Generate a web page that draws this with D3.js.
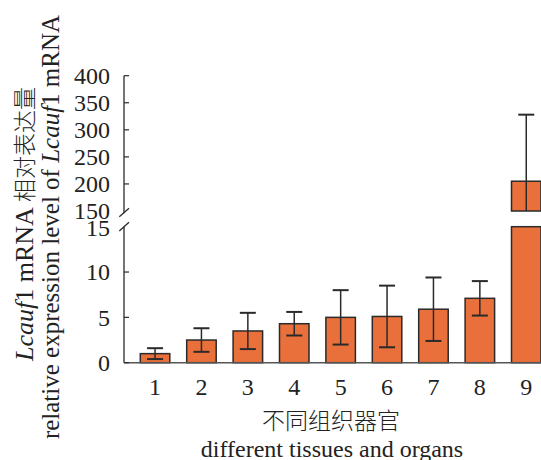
<!DOCTYPE html>
<html>
<head>
<meta charset="utf-8">
<script src="https://cdn.jsdelivr.net/npm/d3@7"></script>
<style>
  body { margin: 0; background: #fff; }
  svg { display: block; }
</style>
</head>
<body>
<svg id="app"></svg>
<script>
// data
const tissues = ["1", "2", "3", "4", "5", "6", "7", "8", "9"];
const expression = [1.0, 2.5, 3.5, 4.3, 5.0, 5.1, 5.9, 7.1, 205];
const errors = [0.6, 1.3, 2.0, 1.3, 3.0, 3.4, 3.5, 1.9, 123];
const lowTicks = [0, 5, 10, 15];
const highTicks = [150, 200, 250, 300, 350, 400];

const width = 541, height = 460;
const fill = "#e9703b", dark = "#2a2a2a";
const font = "'Liberation Serif', 'Times New Roman', 'Noto Sans CJK SC', serif";
const fs = 24;

const svg = d3.select("#app").attr("width", width).attr("height", height);

const x = d3.scaleBand()
    .domain(tissues)
    .range([124, 557.3])
    .paddingInner(0.364)
    .paddingOuter(0.351);

// broken y axis: two linear pieces
const yLow = d3.scaleLinear().domain([0, 15]).range([362.7, 226.7]);
const yHigh = d3.scaleLinear().domain([150, 400]).range([211, 75.7]);
const axisX = 124;

// bars
tissues.forEach((t, i) => {
    const v = expression[i];
    const bx = x(t), bw = x.bandwidth();
    const lowTop = yLow(Math.min(v, 15));
    svg.append("rect")
        .attr("x", bx).attr("y", lowTop)
        .attr("width", bw).attr("height", yLow(0) - lowTop)
        .attr("fill", fill).attr("stroke", dark).attr("stroke-width", 1.5);
    if (v > 150) {
        svg.append("rect")
            .attr("x", bx).attr("y", yHigh(v))
            .attr("width", bw).attr("height", yHigh(150) - yHigh(v))
            .attr("fill", fill).attr("stroke", dark).attr("stroke-width", 1.5);
    }
});

// error bars
tissues.forEach((t, i) => {
    const v = expression[i], e = errors[i];
    const cx = x(t) + x.bandwidth() / 2;
    const cap = 8;
    const g = svg.append("g").attr("stroke", dark).attr("stroke-width", 1.5);
    if (v > 150) {
        const top = yHigh(v + e);
        const bottom = v - e > 150 ? yHigh(v - e) : yHigh(150);
        g.append("line").attr("x1", cx).attr("x2", cx).attr("y1", top).attr("y2", bottom);
        g.append("line").attr("x1", cx - cap).attr("x2", cx + cap).attr("y1", top).attr("y2", top).attr("stroke-width", 2);
    } else {
        const top = yLow(v + e), bottom = yLow(v - e);
        g.append("line").attr("x1", cx).attr("x2", cx).attr("y1", top).attr("y2", bottom);
        [top, bottom].forEach(yy => {
            g.append("line").attr("x1", cx - cap).attr("x2", cx + cap).attr("y1", yy).attr("y2", yy).attr("stroke-width", 2);
        });
    }
});

// x axis
svg.append("line")
    .attr("x1", axisX).attr("x2", width)
    .attr("y1", yLow(0)).attr("y2", yLow(0))
    .attr("stroke", "#555").attr("stroke-width", 1.5);

svg.append("g")
    .selectAll("text")
    .data(tissues)
    .join("text")
    .attr("x", d => x(d) + x.bandwidth() / 2)
    .attr("y", 395)
    .attr("text-anchor", "middle")
    .attr("font-family", font).attr("font-size", fs).attr("fill", "#222")
    .text(d => d);

// y axis, lower piece
svg.append("line")
    .attr("x1", axisX).attr("x2", axisX)
    .attr("y1", yLow(0)).attr("y2", yLow(15))
    .attr("stroke", dark).attr("stroke-width", 1.3);
// y axis, upper piece
svg.append("line")
    .attr("x1", axisX).attr("x2", axisX)
    .attr("y1", yHigh(400)).attr("y2", 213.3)
    .attr("stroke", dark).attr("stroke-width", 1.3);

// break marks
[[216.7, 208.3], [231, 222.3]].forEach(([y1, y2]) => {
    svg.append("line")
        .attr("x1", 119.3).attr("x2", 129)
        .attr("y1", y1).attr("y2", y2)
        .attr("stroke", dark).attr("stroke-width", 1.3);
});

function ticks(scale, values, skipFirstTick) {
    values.forEach((v, i) => {
        if (!(skipFirstTick && i === 0)) {
            svg.append("line")
                .attr("x1", axisX).attr("x2", axisX + 5)
                .attr("y1", scale(v)).attr("y2", scale(v))
                .attr("stroke", dark).attr("stroke-width", 1.2);
        }
        svg.append("text")
            .attr("x", 110).attr("y", scale(v))
            .attr("dy", "0.35em")
            .attr("text-anchor", "end")
            .attr("font-family", font).attr("font-size", fs).attr("fill", "#222")
            .text(v);
    });
}
ticks(yLow, lowTicks.slice(0, 3), false);
svg.append("text")
    .attr("x", 110).attr("y", yLow(15) + 1)
    .attr("dy", "0.35em")
    .attr("text-anchor", "end")
    .attr("font-family", font).attr("font-size", fs).attr("fill", "#222")
    .text(lowTicks[3]);
ticks(yHigh, highTicks, true);

// y titles
const t1 = svg.append("text")
    .attr("transform", "translate(24,224) rotate(-90)")
    .attr("dy", "0.35em")
    .attr("text-anchor", "middle")
    .attr("font-family", font).attr("font-size", 26).attr("fill", "#222");
t1.append("tspan").attr("font-style", "italic").text("Lcauf");
t1.append("tspan").text("1 mRNA ");
t1.append("tspan").attr("font-weight", 300).attr("font-size", 23).text("相对表达量");

const t2 = svg.append("text")
    .attr("transform", "translate(50,227) rotate(-90)")
    .attr("dy", "0.35em")
    .attr("text-anchor", "middle")
    .attr("font-family", font).attr("font-size", 25).attr("fill", "#222");
t2.append("tspan").text("relative expression level of ");
t2.append("tspan").attr("font-style", "italic").text("Lcauf");
t2.append("tspan").text("1 mRNA");

// x titles
svg.append("text")
    .attr("x", 331).attr("y", 429)
    .attr("text-anchor", "middle")
    .attr("font-family", font).attr("font-size", 23).attr("font-weight", 300).attr("fill", "#222")
    .text("不同组织器官");
svg.append("text")
    .attr("x", 332).attr("y", 457)
    .attr("text-anchor", "middle")
    .attr("font-family", font).attr("font-size", fs).attr("fill", "#222")
    .text("different tissues and organs");
</script>
</body>
</html>
